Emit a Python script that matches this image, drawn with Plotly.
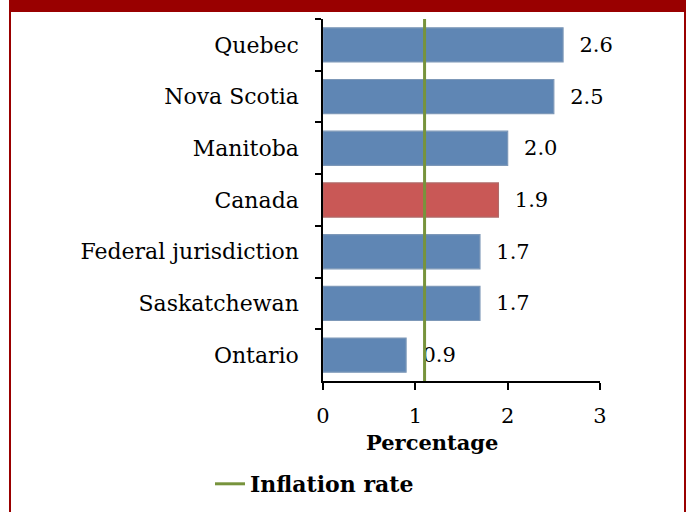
import plotly.graph_objects as go

categories = ["Quebec", "Nova Scotia", "Manitoba", "Canada",
              "Federal jurisdiction", "Saskatchewan", "Ontario"]
values = [2.6, 2.5, 2.0, 1.9, 1.7, 1.7, 0.9]
inflation_rate = 1.1
x_ticks = [0, 1, 2, 3]
x_title = "Percentage"
legend_label = "Inflation rate"

W, H = 688, 512
L, R, T, B = 323, 88, 19, 131
pw, ph = W - L - R, H - T - B

FONT = "DejaVu Serif"
RED = "#990000"
colors = ["#c95856" if c == "Canada" else "#5f86b4" for c in categories]
lines = ["#b06a68" if c == "Canada" else "#7d98b8" for c in categories]

fig = go.Figure()
fig.add_trace(go.Bar(
    y=categories, x=values, orientation="h",
    marker=dict(color=colors, line=dict(color=lines, width=1.2)),
    texttemplate="\u00a0\u00a0%{x:.1f}", textposition="outside",
    textfont=dict(family=FONT, size=21, color="black"),
    cliponaxis=False, showlegend=False, width=0.66,
))
fig.add_trace(go.Scatter(
    x=[inflation_rate, inflation_rate], y=[0, 1.01], yaxis="y2",
    mode="lines", line=dict(color="#77933c", width=3),
    name=f"<b>{legend_label}</b>", showlegend=True, cliponaxis=False,
))


def px_x(p):
    return (p - L) / pw


def px_y(p):
    return 1 - (p - T) / ph


# dark red frame: top band and thin side borders
fig.add_shape(type="rect", xref="paper", yref="paper",
              x0=px_x(9), x1=px_x(686), y0=px_y(12), y1=px_y(-5),
              fillcolor=RED, line_width=0, layer="below")
fig.add_shape(type="rect", xref="paper", yref="paper",
              x0=px_x(9), x1=px_x(11), y0=px_y(H + 5), y1=px_y(0),
              fillcolor=RED, line_width=0, layer="below")
fig.add_shape(type="rect", xref="paper", yref="paper",
              x0=px_x(684), x1=px_x(686), y0=px_y(H + 5), y1=px_y(0),
              fillcolor=RED, line_width=0, layer="below")

fig.add_annotation(text=f"<b>{x_title}</b>", xref="paper", yref="paper",
                   x=px_x(432), y=px_y(443), xanchor="center", yanchor="middle",
                   showarrow=False, font=dict(family=FONT, size=21, color="black"))

fig.update_layout(
    width=W, height=H,
    margin=dict(l=L, r=R, t=T, b=B, autoexpand=False),
    paper_bgcolor="white", plot_bgcolor="white",
    font=dict(family=FONT, size=21, color="black"),
    xaxis=dict(range=[0, 3], tickvals=x_ticks, showgrid=False, zeroline=False,
               showline=True, linecolor="black", linewidth=1.5,
               ticks="outside", ticklen=7, tickcolor="black", tickwidth=1.5,
               tickfont=dict(family=FONT, size=21), ticklabelstandoff=8),
    yaxis=dict(type="category", autorange="reversed", showgrid=False,
               showline=True, linecolor="black", linewidth=1.5,
               ticks="outside", ticklen=6, tickcolor="black", tickwidth=1.5,
               tickson="boundaries",
               tickfont=dict(family=FONT, size=22), ticklabelstandoff=18),
    yaxis2=dict(range=[0, 1], overlaying="y", visible=False, fixedrange=True),
    legend=dict(orientation="h", x=px_x(210), xanchor="left",
                y=px_y(484), yanchor="middle",
                font=dict(family=FONT, size=22), bgcolor="rgba(0,0,0,0)"),
    bargap=0.34,
)

fig.write_html("out.html", config={"displayModeBar": False},
               post_script="document.body.style.margin='0';")
